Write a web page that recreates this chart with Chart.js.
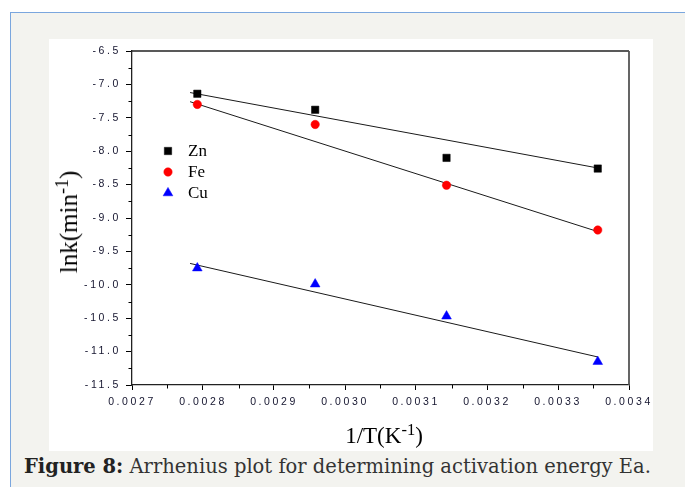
<!DOCTYPE html>
<html>
<head>
<meta charset="utf-8">
<script src="https://cdn.jsdelivr.net/npm/chart.js@4/dist/chart.umd.min.js"></script>
<style>
  html, body { margin: 0; padding: 0; background: #ffffff; }
  body { width: 685px; height: 487px; position: relative; overflow: hidden; }
  #panel { position: absolute; left: 10px; top: 12px; width: 675px; height: 475px;
           background: #f3f3ef; border-top: 1px solid #7aa6de; border-left: 1px solid #7aa6de; }
  #white { position: absolute; left: 49px; top: 39px; width: 604px; height: 412px; background: #ffffff; }
  #wrap { position: absolute; left: 0; top: 0; width: 604px; height: 412px; }
  #xtitle { position: absolute; left: 335px; top: 384px; width: 0; }
  #xtitle span { position: absolute; white-space: nowrap; transform: translateX(-50%);
            font-family: "Liberation Serif", "Times New Roman", serif; font-size: 23px; color: #000; }
  #ytitle { position: absolute; left: 20px; top: 183px; width: 0; height: 0; }
  #ytitle span { position: absolute; white-space: nowrap; transform: translate(-50%, -50%) rotate(-90deg);
                 font-family: "Liberation Serif", "Times New Roman", serif; font-size: 25px; color: #000; }
  sup { font-size: 0.72em; line-height: 0; vertical-align: 0.5em; }
  #caption { position: absolute; left: 24px; top: 455px; white-space: nowrap;
             font-family: "DejaVu Serif", serif; font-size: 19.5px; color: #333; }
  #caption b { color: #222; }
</style>
</head>
<body>
<div id="panel"></div>
<div id="white">
  <div id="wrap"><canvas id="c"></canvas></div>
  <div id="xtitle"><span>1/T(K<sup>-1</sup>)</span></div>
  <div id="ytitle"><span>lnk(min<sup>-1</sup>)</span></div>
</div>
<div id="caption"><b>Figure 8:</b> Arrhenius plot for determining activation energy Ea.</div>
<script>
// ---- data ----
const invT = [0.002792, 0.002958, 0.003143, 0.003356];
const znValues = [-7.14, -7.38, -8.10, -8.26];
const feValues = [-7.30, -7.60, -8.51, -9.18];
const cuValues = [-9.75, -9.99, -10.47, -11.15];
// fitted straight lines (end points)
const fitX = [0.0027818, 0.0033559];
const znFit = [-7.122, -8.251];
const feFit = [-7.259, -9.203];
const cuFit = [-9.68, -11.08];
const seriesNames = ['Zn', 'Fe', 'Cu'];
const xTicks = ['0.0027','0.0028','0.0029','0.0030','0.0031','0.0032','0.0033','0.0034'];
const yTicks = ['-6.5','-7.0','-7.5','-8.0','-8.5','-9.0','-9.5','-10.0','-10.5','-11.0','-11.5'];

const pts = (xs, ys) => xs.map((x, i) => ({ x: x, y: ys[i] }));

const markerStyles = [
  { pointStyle: 'rect', color: '#000000', radius: 5.2 },
  { pointStyle: 'circle', color: '#ff0000', radius: 4.2 },
  { pointStyle: 'triangle', color: '#0000ff', radius: 5.6 }
];
const seriesValues = [znValues, feValues, cuValues];
const fits = [znFit, feFit, cuFit];

const datasets = [];
fits.forEach((f, i) => {
  datasets.push({
    label: seriesNames[i] + ' fit', data: pts(fitX, f), showLine: true,
    borderColor: '#1a1a1a', borderWidth: 1, pointRadius: 0, pointHoverRadius: 0,
    order: 2
  });
});
seriesValues.forEach((v, i) => {
  const m = markerStyles[i];
  datasets.push({
    label: seriesNames[i], data: pts(invT, v), showLine: false,
    pointStyle: m.pointStyle, pointRadius: m.radius, pointHoverRadius: m.radius,
    backgroundColor: m.color, borderColor: m.color, borderWidth: 0.5, order: 1
  });
});

const xMin = parseFloat(xTicks[0]), xMax = parseFloat(xTicks[xTicks.length - 1]);
const yMax = parseFloat(yTicks[0]), yMin = parseFloat(yTicks[yTicks.length - 1]);

const framePlugin = {
  id: 'frame',
  beforeDraw(chart) { chart.ctx.letterSpacing = '2.6px'; },
  afterDraw(chart) {
    const ctx = chart.ctx, a = chart.chartArea;
    const xs = chart.scales.x, ys = chart.scales.y;
    ctx.save();
    ctx.letterSpacing = '0px';
    // minor ticks
    ctx.strokeStyle = '#000'; ctx.lineWidth = 1;
    ctx.beginPath();
    for (let k = 0; k < xTicks.length - 1; k++) {
      const v = (parseFloat(xTicks[k]) + parseFloat(xTicks[k + 1])) / 2;
      const px = Math.round(xs.getPixelForValue(v)) + 0.5;
      ctx.moveTo(px, a.bottom); ctx.lineTo(px, a.bottom + 3.5);
    }
    for (let k = 0; k < yTicks.length - 1; k++) {
      const v = (parseFloat(yTicks[k]) + parseFloat(yTicks[k + 1])) / 2;
      const py = Math.round(ys.getPixelForValue(v)) + 0.5;
      ctx.moveTo(a.left, py); ctx.lineTo(a.left - 3.5, py);
    }
    ctx.stroke();
    // top and right frame lines
    ctx.beginPath();
    ctx.strokeStyle = '#222'; ctx.lineWidth = 1.3;
    ctx.moveTo(a.left, a.top); ctx.lineTo(a.right, a.top);
    ctx.stroke();
    ctx.beginPath();
    ctx.strokeStyle = '#555'; ctx.lineWidth = 1.8;
    ctx.moveTo(a.right, a.top); ctx.lineTo(a.right, a.bottom);
    ctx.stroke();
    // legend
    const lx = a.left + 36, ly0 = a.top + 100, step = 21;
    ctx.font = '17px "Liberation Serif", "Times New Roman", serif';
    ctx.textBaseline = 'middle';
    ctx.textAlign = 'left';
    seriesNames.forEach((name, i) => {
      const m = markerStyles[i];
      const y = ly0 + i * step;
      ctx.fillStyle = m.color; ctx.strokeStyle = m.color;
      ctx.lineWidth = 0.5;
      if (Chart.helpers && Chart.helpers.drawPoint) {
        Chart.helpers.drawPoint(ctx, { pointStyle: m.pointStyle, radius: m.radius, borderWidth: 0.5, rotation: 0 }, lx, y);
      }
      ctx.fillStyle = '#000';
      ctx.fillText(name, lx + 20, y + 1);
    });
    ctx.restore();
  }
};

new Chart(document.getElementById('c'), {
  type: 'scatter',
  data: { datasets: datasets },
  options: {
    responsive: true, maintainAspectRatio: false, animation: false,
    events: [],
    layout: { padding: { left: 0, right: 24, top: 12, bottom: 0 } },
    plugins: { legend: { display: false }, tooltip: { enabled: false } },
    scales: {
      x: {
        type: 'linear', min: xMin, max: xMax,
        afterFit(s) { s.height = 66; },
        afterBuildTicks(s) { s.ticks = xTicks.map(t => ({ value: parseFloat(t) })); },
        ticks: {
          callback: (v, i) => xTicks[i], padding: 6, maxRotation: 0, autoSkip: false,
          color: '#14142e', font: { family: '"Liberation Sans", Arial, sans-serif', size: 10.5 }
        },
        grid: { drawOnChartArea: false, drawTicks: true, tickLength: 5, tickColor: '#000', tickWidth: 1 },
        border: { display: true, color: '#222', width: 1.3 }
      },
      y: {
        type: 'linear', min: yMin, max: yMax,
        afterFit(s) { s.width = 83; },
        afterBuildTicks(s) { s.ticks = yTicks.map(t => ({ value: parseFloat(t) })); },
        ticks: {
          callback: function (v) {
            const idx = yTicks.findIndex(t => Math.abs(parseFloat(t) - v) < 1e-9);
            return idx >= 0 ? yTicks[idx] : '';
          },
          padding: 5, autoSkip: false,
          color: '#14142e', font: { family: '"Liberation Sans", Arial, sans-serif', size: 10.5 }
        },
        grid: { drawOnChartArea: false, drawTicks: true, tickLength: 6, tickColor: '#000', tickWidth: 1 },
        border: { display: true, color: '#222', width: 1.3 }
      }
    }
  },
  plugins: [framePlugin]
});
</script>
</body>
</html>
